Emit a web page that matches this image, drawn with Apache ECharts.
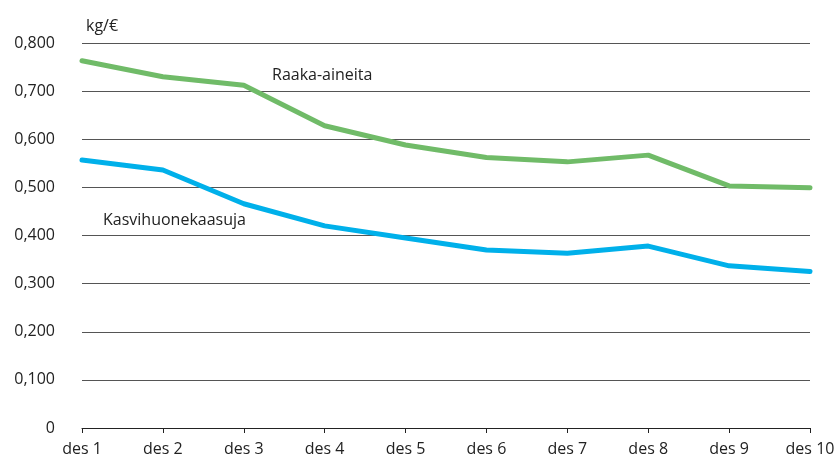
<!DOCTYPE html>
<html>
<head>
<meta charset="utf-8">
<script src="https://cdn.jsdelivr.net/npm/echarts@6/dist/echarts.min.js"></script>
<style>
  html, body { margin: 0; padding: 0; background: #fff; }
  #main { width: 839px; height: 465px; }
</style>
</head>
<body>
<div id="main"></div>
<script>
// data
const categories = ['des 1', 'des 2', 'des 3', 'des 4', 'des 5', 'des 6', 'des 7', 'des 8', 'des 9', 'des 10']
const raakaAineita = [0.763, 0.730, 0.712, 0.628, 0.588, 0.562, 0.553, 0.567, 0.503, 0.499]
const kasvihuonekaasuja = [0.557, 0.536, 0.466, 0.420, 0.395, 0.370, 0.363, 0.378, 0.337, 0.325]

const font = '"Open Sans", "Noto Sans", sans-serif'

const myChart = echarts.init(document.getElementById('main'), null, { renderer: 'canvas' })
myChart.setOption({
  animation: false,
  textStyle: { fontFamily: font },
  grid: { left: 82, right: 29, top: 43, bottom: 37, containLabel: false },
  xAxis: {
    type: 'category',
    boundaryGap: false,
    data: categories,
    axisLine: { lineStyle: { color: '#222', width: 1 } },
    axisTick: { show: true, length: 5, alignWithLabel: true, lineStyle: { color: '#222' } },
    axisLabel: { color: '#222', fontSize: 16, margin: 13, fontFamily: font }
  },
  yAxis: {
    type: 'value',
    min: 0,
    max: 0.8,
    interval: 0.1,
    axisLine: { show: false },
    axisTick: { show: false },
    splitLine: { lineStyle: { color: '#555', width: 1 } },
    axisLabel: {
      color: '#222',
      fontSize: 16,
      margin: 27,
      fontFamily: font,
      formatter: v => v === 0 ? '0' : v.toFixed(3).replace('.', ',')
    }
  },
  graphic: [
    { type: 'text', left: 86, top: 18, style: { text: 'kg/€', fontSize: 16, fontFamily: font, fill: '#222' } },
    { type: 'text', left: 272, top: 67, style: { text: 'Raaka-aineita', fontSize: 16, fontFamily: font, fill: '#222' } },
    { type: 'text', left: 103, top: 212, style: { text: 'Kasvihuonekaasuja', fontSize: 16, fontFamily: font, fill: '#222' } }
  ],
  series: [
    {
      name: 'Raaka-aineita',
      type: 'line',
      data: raakaAineita,
      showSymbol: false,
      lineStyle: { color: '#70bb68', width: 5, cap: 'round', join: 'round' },
      itemStyle: { color: '#70bb68' }
    },
    {
      name: 'Kasvihuonekaasuja',
      type: 'line',
      data: kasvihuonekaasuja,
      showSymbol: false,
      lineStyle: { color: '#00b0ea', width: 5, cap: 'round', join: 'round' },
      itemStyle: { color: '#00b0ea' }
    }
  ]
})
</script>
</body>
</html>
